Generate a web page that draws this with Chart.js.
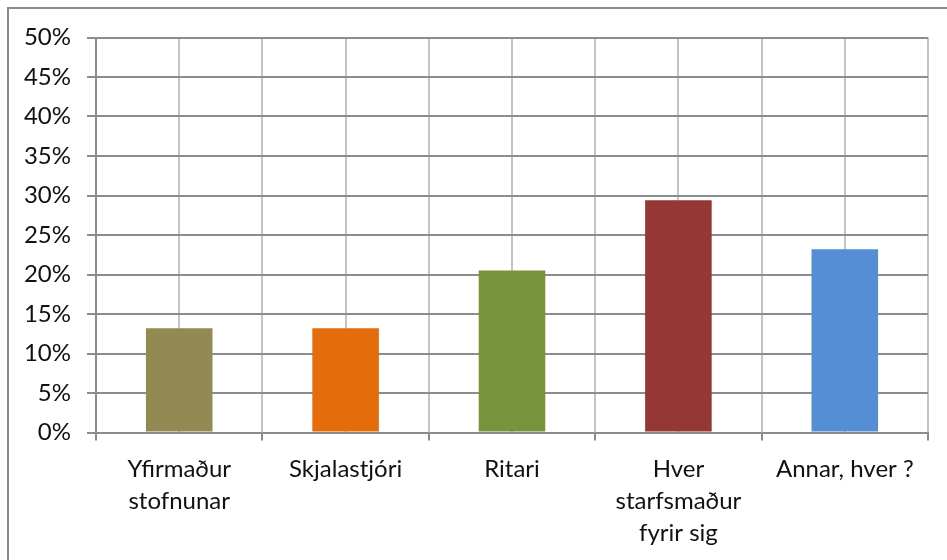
<!DOCTYPE html>
<html>
<head>
<meta charset="utf-8">
<script src="https://cdn.jsdelivr.net/npm/chart.js"></script>
<style>
  html, body { margin: 0; padding: 0; background: #fff; overflow: hidden; }
  #wrap { position: relative; width: 947px; height: 560px; }
  #frame { position: absolute; left: 7px; top: 7px; width: 1000px; height: 700px;
           border-left: 2px solid #8a8a8a; border-top: 2px solid #8a8a8a; box-sizing: border-box; }
  canvas { position: absolute; left: 0; top: 0; }
</style>
</head>
<body>
<div id="wrap">
  <div id="frame"></div>
  <canvas id="chart" width="947" height="560"></canvas>
</div>
<script>
// Категории и значения (в процентах)
var categories = [
  ['Yfirmaður', 'stofnunar'],
  'Skjalastjóri',
  'Ritari',
  ['Hver', 'starfsmaður', 'fyrir sig'],
  'Annar, hver ?'
];
var values = [13.2, 13.2, 20.5, 29.4, 23.2];
var barColors = ['#938953', '#E46C0A', '#77933C', '#953735', '#558ED5'];
var yTicks = [0, 5, 10, 15, 20, 25, 30, 35, 40, 45, 50];

var darkGrid = '#8c8c8c';
var lightGrid = '#c4c4c4';

var ctx = document.getElementById('chart').getContext('2d');
var chart = new Chart(ctx, {
  type: 'bar',
  data: {
    labels: categories,
    datasets: [{
      data: values,
      backgroundColor: barColors,
      borderWidth: 0,
      barPercentage: 0.4,
      categoryPercentage: 1.0,
      xAxisID: 'x',
      yAxisID: 'y'
    }]
  },
  options: {
    responsive: false,
    animation: false,
    layout: { padding: { left: 0, right: 19, top: 0, bottom: 0 } },
    plugins: { legend: { display: false }, tooltip: { enabled: false } },
    scales: {
      x: {
        type: 'category',
        position: 'bottom',
        offset: true,
        grid: { offset: true, color: lightGrid, lineWidth: 2, tickLength: 8, tickColor: darkGrid, tickWidth: 2 },
        border: { color: darkGrid, width: 2 },
        ticks: {
          color: '#111',
          padding: 13,
          maxRotation: 0,
          autoSkip: false,
          font: { family: 'Lato', size: 24, lineHeight: 1.33 }
        },
        afterFit: function (s) { s.height = 560 - 432.5; }
      },
      x2: {
        type: 'category',
        position: 'top',
        offset: true,
        grid: { offset: false, color: lightGrid, lineWidth: 2, drawTicks: false },
        border: { display: false },
        ticks: { display: false },
        afterFit: function (s) { s.height = 37.5; }
      },
      y: {
        min: 0,
        max: 50,
        afterBuildTicks: function (s) { s.ticks = yTicks.map(function (v) { return { value: v }; }); },
        grid: { color: darkGrid, lineWidth: 2, tickLength: 9 },
        border: { color: darkGrid, width: 2 },
        ticks: {
          color: '#111',
          padding: 16,
          font: { family: 'Lato', size: 24 },
          callback: function (v) { return v + '%'; }
        },
        afterFit: function (s) { s.width = 96; }
      }
    }
  }
});
</script>
</body>
</html>
